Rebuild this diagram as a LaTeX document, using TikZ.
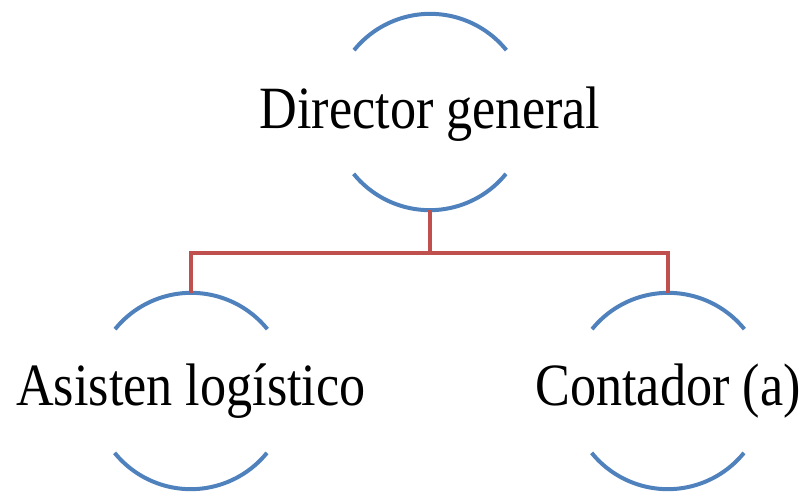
\documentclass[tikz,border=0pt]{standalone}
\usepackage{fontspec}
\setmainfont{Liberation Serif}
\definecolor{azul}{RGB}{79,129,189}
\definecolor{rojo}{RGB}{192,80,77}
\tikzset{
  puesto/.style={circle, minimum size=147pt, inner sep=0pt},
  arco/.style={draw=azul, line width=3pt},
  rama/.style={draw=rojo, line width=3pt},
  texto/.style={anchor=base, inner sep=0pt, font=\fontsize{45}{54}\selectfont}
}
\newcommand{\estrecho}[1]{\scalebox{0.87}[1]{#1}}
\begin{document}
\begin{tikzpicture}[x=0.75pt, y=0.75pt]
    \useasboundingbox (0,0) rectangle (805,494);
    \node[puesto] (dg) at (430,382) {};
    \node[puesto] (al) at (191,103) {};
    \node[puesto] (ca) at (668,103) {};
    \node[texto] (tdg) at (430,366) {\estrecho{Director general}};
    \node[texto] (tal) at (191,89) {\estrecho{Asisten logístico}};
    \node[texto] (tca) at (668,89) {\estrecho{Contador (a)}};
    \foreach \n in {dg, al, ca} {
        \draw[arco] (\n.39) arc[start angle=39, end angle=141, radius=73.5pt];
        \draw[arco] (\n.219) arc[start angle=219, end angle=321, radius=73.5pt];
    }
    \coordinate (m) at (430,241);
    \draw[rama] (dg.south) -- (m) -| (al.north);
    \draw[rama] (m) -| (ca.north);
\end{tikzpicture}
\end{document}
